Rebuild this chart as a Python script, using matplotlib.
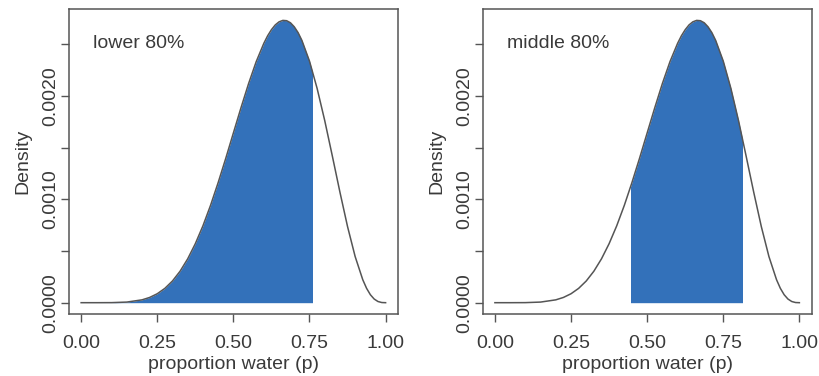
import numpy as np
import matplotlib
matplotlib.use("Agg")
import matplotlib.pyplot as plt
from matplotlib.patches import Rectangle

# posterior density
p_grid = [0.0, 0.05, 0.10, 0.15, 0.20, 0.225, 0.25, 0.275, 0.30, 0.325, 0.35, 0.375,
          0.40, 0.425, 0.45, 0.475, 0.50, 0.525, 0.55, 0.575, 0.60, 0.6125, 0.625,
          0.6375, 0.65, 0.6625, 0.675, 0.6875, 0.70, 0.7125, 0.725, 0.75, 0.775,
          0.80, 0.825, 0.85, 0.875, 0.90, 0.925, 0.9375, 0.95, 0.9625, 0.975,
          0.9875, 1.0]
density = [0.0, 0.00000001, 0.0000006, 0.0000059, 0.0000275, 0.0000507, 0.0000865,
           0.0001385, 0.000210, 0.0003044, 0.000424, 0.0005703, 0.000743, 0.000941,
           0.001161, 0.001396, 0.001641, 0.001885, 0.002119, 0.002331, 0.002508,
           0.002581, 0.002640, 0.002686, 0.002716, 0.002730, 0.002727, 0.002707,
           0.002668, 0.002612, 0.002537, 0.002336, 0.002073, 0.001762, 0.001419,
           0.001069, 0.000736, 0.000446, 0.000222, 0.000139, 0.000077, 0.0000352,
           0.0000113, 0.0000015, 0.0]

titles = ["lower 80%", "middle 80%"]
intervals = [(0.0, 0.757), (0.447, 0.811)]

blue = "#3371ba"
grey = "#555555"
txt = "#3a3a3a"

plt.rcParams['font.family'] = ['Liberation Sans', 'DejaVu Sans']
plt.rcParams['font.size'] = 14

fig = plt.figure(figsize=(8.2, 3.76), dpi=100)
lefts = [0.0841, 0.5887]

for i in range(2):
    ax = fig.add_axes([lefts[i], 0.165, 0.401, 0.811])
    poly = ax.fill_between(p_grid, density, color=blue, lw=0)
    lo, hi = intervals[i]
    clip = Rectangle((lo, -1), hi - lo, 2, transform=ax.transData)
    poly.set_clip_path(clip)
    ax.plot(p_grid, density, color=grey, lw=1.1)

    ax.set_xlim(-0.04, 1.04)
    ax.set_ylim(-0.000109, 0.00284)
    ax.set_xticks([0, 0.25, 0.5, 0.75, 1.0])
    ax.set_xticklabels(["0.00", "0.25", "0.50", "0.75", "1.00"], color=txt)
    yt = [0, 0.0005, 0.001, 0.0015, 0.002, 0.0025]
    ax.set_yticks(yt)
    ax.set_yticklabels(["0.0000", "", "0.0010", "", "0.0020", ""], rotation=90,
                       va="center", color=txt)
    ax.tick_params(length=6, width=1, color=grey)
    ax.tick_params(axis="x", pad=9)
    ax.tick_params(axis="y", pad=1)
    for s in ax.spines.values():
        s.set_color(grey)
        s.set_linewidth(1.1)
    ax.set_xlabel("proportion water (p)", color=txt, labelpad=3)
    ax.set_ylabel("Density", color=txt, labelpad=8)
    ax.text(0.039, 0.00251, titles[i], ha="left", va="center", color=txt)

fig.savefig("out.png", dpi=100)
